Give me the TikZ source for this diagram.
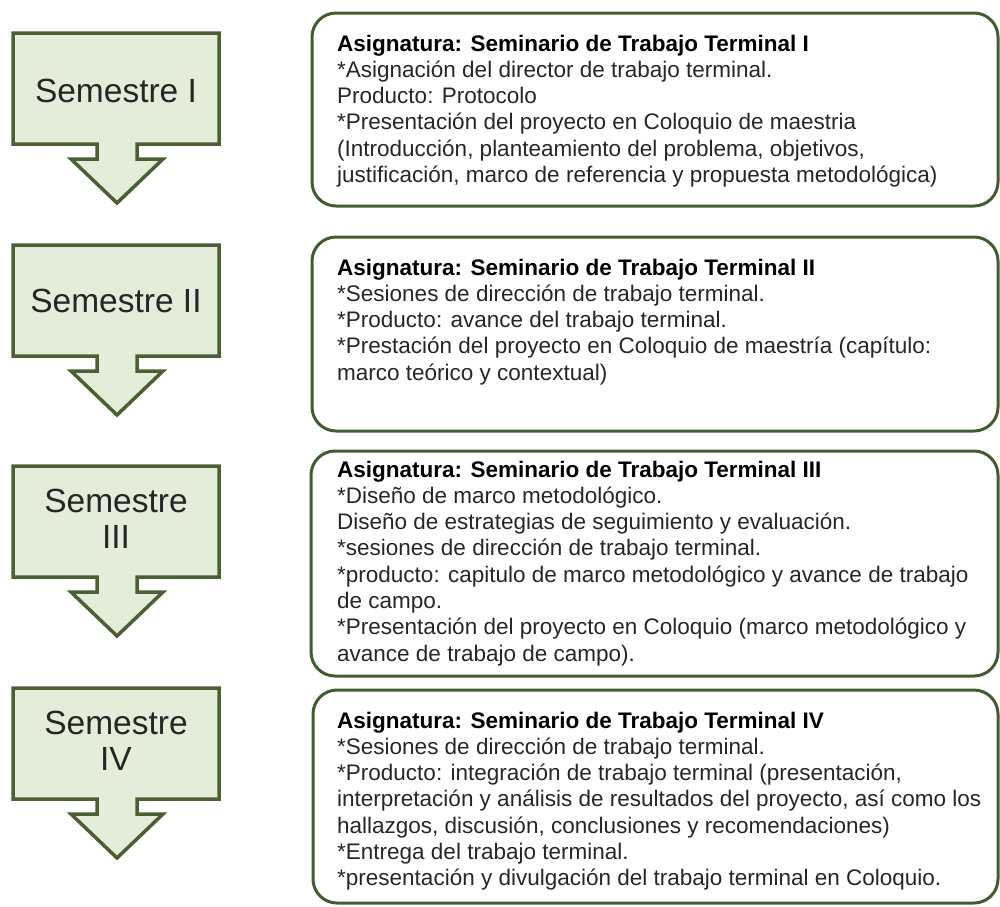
\documentclass[tikz,border=0pt]{standalone}
\usepackage{fontspec}
\setmainfont{Liberation Sans}
\definecolor{arrowfill}{HTML}{E3EDD9}
\definecolor{arrowline}{HTML}{4B5F33}
\definecolor{boxline}{HTML}{425C30}
\definecolor{txt}{HTML}{262626}
\begin{document}
\begin{tikzpicture}[x=1pt,y=-1pt,
  semarrow/.style={draw=arrowline, fill=arrowfill, line width=3.5pt, line join=miter},
  infobox/.style={draw=boxline, line width=3pt, rounded corners=24pt},
  semtext/.style={inner sep=0pt, anchor=base, font=\fontsize{33.5}{36}\selectfont, text=txt},
  infotext/.style={inner sep=0pt, anchor=base west, font=\fontsize{22.5}{26.3}\selectfont, text=txt}]
\useasboundingbox (0,0) rectangle (1000,906);

% semester arrows
\foreach \t in {33,245,466,688}{
  \draw[semarrow] (13,\t) -- (219,\t) -- (219,\t+111) -- (137,\t+111) -- (137,\t+126)
    -- (163,\t+126) -- (117,\t+170) -- (71,\t+126) -- (97,\t+126) -- (97,\t+111)
    -- (13,\t+111) -- cycle;
}
\node[semtext] (s1) at (116,102) {Semestre I};
\node[semtext] (s2) at (116,312) {Semestre II};
\node[semtext] (s3) at (116,512) {\begin{tabular}[t]{@{}c@{}}Semestre\\III\end{tabular}};
\node[semtext] (s4) at (116,734) {\begin{tabular}[t]{@{}c@{}}Semestre\\IV\end{tabular}};

% description boxes
\draw[infobox] (312,13) rectangle (998,206);
\draw[infobox] (312,237) rectangle (998,431);
\draw[infobox] (311,451) rectangle (998,676);
\draw[infobox] (313,690) rectangle (998,903);

\node[infotext] (b1) at (337,51) {\begin{tabular}[t]{@{}l@{}}
\textcolor{black}{\textbf{Asignatura: Seminario de Trabajo Terminal I}}\\
{*}Asignación del director de trabajo terminal.\\
Producto: Protocolo\\
{*}Presentación del proyecto en Coloquio de maestria\\
(Introducción, planteamiento del problema, objetivos,\\
justificación, marco de referencia y propuesta metodológica)
\end{tabular}};

\node[infotext] (b2) at (337,275) {\begin{tabular}[t]{@{}l@{}}
\textcolor{black}{\textbf{Asignatura: Seminario de Trabajo Terminal II}}\\
{*}Sesiones de dirección de trabajo terminal.\\
{*}Producto: avance del trabajo terminal.\\
{*}Prestación del proyecto en Coloquio de maestría (capítulo:\\
marco teórico y contextual)
\end{tabular}};

\node[infotext] (b3) at (337,477) {\begin{tabular}[t]{@{}l@{}}
\textcolor{black}{\textbf{Asignatura: Seminario de Trabajo Terminal III}}\\
{*}Diseño de marco metodológico.\\
Diseño de estrategias de seguimiento y evaluación.\\
{*}sesiones de dirección de trabajo terminal.\\
{*}producto: capitulo de marco metodológico y avance de trabajo\\
de campo.\\
{*}Presentación del proyecto en Coloquio (marco metodológico y\\
avance de trabajo de campo).
\end{tabular}};

\node[infotext] (b4) at (337,728) {\begin{tabular}[t]{@{}l@{}}
\textcolor{black}{\textbf{Asignatura: Seminario de Trabajo Terminal IV}}\\
{*}Sesiones de dirección de trabajo terminal.\\
{*}Producto: integración de trabajo terminal (presentación,\\
interpretación y análisis de resultados del proyecto, así como los\\
hallazgos, discusión, conclusiones y recomendaciones)\\
{*}Entrega del trabajo terminal.\\
{*}presentación y divulgación del trabajo terminal en Coloquio.
\end{tabular}};
\end{tikzpicture}
\end{document}
